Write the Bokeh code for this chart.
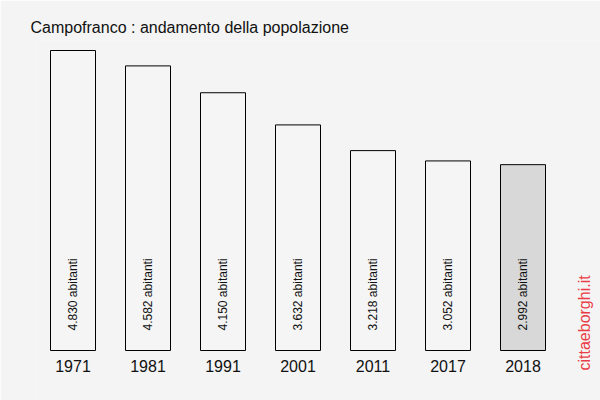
from bokeh.plotting import figure
from bokeh.models import Range1d, ColumnDataSource
from bokeh.core.properties import value
from bokeh.embed import file_html
from bokeh.resources import INLINE
from math import pi

years = ["1971", "1981", "1991", "2001", "2011", "2017", "2018"]
population = [4830, 4582, 4150, 3632, 3218, 3052, 2992]
labels = ["4.830 abitanti", "4.582 abitanti", "4.150 abitanti", "3.632 abitanti",
          "3.218 abitanti", "3.052 abitanti", "2.992 abitanti"]
fills = ["#f5f5f5"] * 6 + ["#d8d8d8"]

xpos = [i + 0.5 for i in range(len(years))]
src = ColumnDataSource(dict(x=xpos, year=years, top=population, lab=labels, fill=fills,
                            zero=[0] * len(years)))

BG = "#f4f4f4"
p = figure(width=600, height=400, output_backend="svg", toolbar_location=None,
           x_range=Range1d(0, 565 / 75), y_range=Range1d(-805, 4991),
           min_border_left=35, min_border_right=0, min_border_top=40, min_border_bottom=0,
           background_fill_color=BG, border_fill_color=BG, outline_line_color=None)

p.vbar(x="x", top="top", width=0.6, source=src, fill_color="fill", line_color="black", line_width=1)
p.text(x="x", y="zero", text="lab", source=src, angle=pi / 2, text_align="left",
       text_baseline="middle", y_offset=-20, text_font_size="12px",
       text_font=value("Liberation Sans"), text_color="#111111")
p.text(x="x", y="zero", text="year", source=src, text_align="center",
       text_baseline="middle", y_offset=15, text_font_size="16px",
       text_font=value("Liberation Sans"), text_color="#111111")

p.text(x=[(584 - 35) / 75], y=[0], text=["cittaeborghi.it"], angle=pi / 2,
       text_align="left", text_baseline="middle", y_offset=20,
       text_font=value("Liberation Sans"), text_font_size="16px", text_color="#ea3c46")

p.title.text = "Campofranco : andamento della popolazione"
p.title.text_font = "Liberation Sans"
p.title.text_font_size = "16px"
p.title.text_font_style = "normal"
p.title.text_color = "#111111"
p.title.align = "left"
p.title.offset = -5

p.xaxis.visible = False
p.yaxis.visible = False
p.xgrid.visible = False
p.ygrid.visible = False

open("out.html", "w").write(file_html(p, INLINE))
